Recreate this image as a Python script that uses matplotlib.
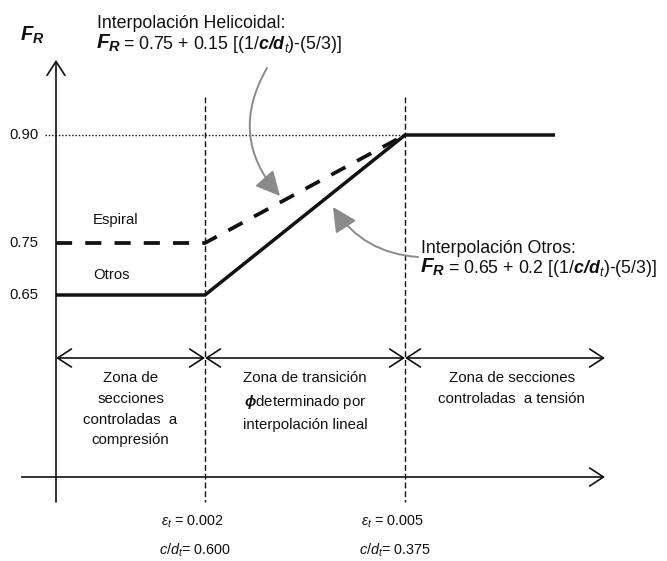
import numpy as np
import matplotlib
matplotlib.use("Agg")
import matplotlib.pyplot as plt

plt.rcParams['font.family'] = ['Liberation Sans', 'DejaVu Sans']
plt.rcParams['mathtext.fontset'] = 'custom'
plt.rcParams['mathtext.rm'] = 'Liberation Sans'
plt.rcParams['mathtext.it'] = 'Liberation Sans:italic'
plt.rcParams['mathtext.bf'] = 'Liberation Sans:bold:italic'

# ---- values -------------------------------------------------------------
strain_limits = [0.002, 0.005]            # epsilon_t at zone boundaries
cd_ratios = ["0.600", "0.375"]            # c/d_t at zone boundaries
fr_ticks = [0.65, 0.75, 0.90]
fr_tick_labels = ["0.65", "0.75", "0.90"]

eps_axis = -0.000235                      # strain where the F_R axis is drawn
eps_end = 0.00725                         # end of the tension plateau
eps_arrow_end = 0.008                     # end of the strain axis / zone arrows

otros_eps = [eps_axis, 0.002, 0.005, eps_end]
otros_fr = [0.65, 0.65, 0.90, 0.90]
espiral_eps = [eps_axis, 0.002, 0.005]
espiral_fr = [0.75, 0.75, 0.90]

zone_bounds = [eps_axis, 0.002, 0.005, eps_arrow_end]
zone_labels = [
    "Zona de\nsecciones\ncontroladas  a\ncompresión",
    "Zona de transición\n$\\mathbf{\\phi}$determinado por\ninterpolación lineal",
    "Zona de secciones\ncontroladas  a tensión",
]

W, H = 667, 561
INK = "#111111"
GREY = "#8a8a8a"

# schematic (non-proportional) vertical scale for F_R
def fr_to_h(v):
    v = np.asarray(v, dtype=float)
    return np.where(v < 0.75, 318 + (v - 0.75) * 520, 318 + (v - 0.75) * 720)

def h_to_fr(h):
    h = np.asarray(h, dtype=float)
    return np.where(h < 318, 0.75 + (h - 318) / 520, 0.75 + (h - 318) / 720)

fig = plt.figure(figsize=(W / 100, H / 100), dpi=100)
ax = fig.add_axes([0, 0, 1, 1])
ax.set_yscale('function', functions=(fr_to_h, h_to_fr))
ax.set_xlim(-0.001075, 0.00893)
ax.set_ylim(float(h_to_fr(0)), float(h_to_fr(H)))
ax.axis('off')

def fy(py):
    """vertical position (pixels from top) as an axes fraction"""
    return 1 - py / H

def P(px, py):
    return (px / W, 1 - py / H)

xt = ax.get_xaxis_transform()   # x in strain, y in axes fraction

def chevron_arrow(p0, p1, style, lw=1.2):
    ax.annotate("", xy=p1, xytext=p0, xycoords=xt, textcoords=xt,
                arrowprops=dict(arrowstyle=style + ",head_length=10,head_width=6.5",
                                mutation_scale=1, lw=lw, color=INK,
                                shrinkA=0, shrinkB=0))

# axes with open arrowheads
chevron_arrow((eps_axis, fy(502)), (eps_axis, fy(60)), "->")
chevron_arrow((-0.00075, fy(477)), (eps_arrow_end, fy(477)), "->")

# zone boundaries
for e in strain_limits:
    ax.plot([e, e], [fy(97), fy(502)], transform=xt, color=INK, lw=1.0,
            dashes=(4.2, 2.1), zorder=2)

# 0.90 reference
ax.plot([-0.0004, strain_limits[1]], [fr_ticks[2], fr_ticks[2]], color=INK,
        lw=1.0, dashes=(1.0, 1.4), zorder=2)

# F_R curves
ax.plot(espiral_eps, espiral_fr, color=INK, lw=2.7, dashes=(4.3, 3.5),
        solid_capstyle='butt', dash_capstyle='butt', zorder=3)
ax.plot(otros_eps, otros_fr, color=INK, lw=2.5, solid_joinstyle='miter',
        solid_capstyle='butt', zorder=4)

# tick labels
for v, lab in zip(fr_ticks, fr_tick_labels):
    ax.text(-0.0005, v, lab, ha='right', va='center', fontsize=10.7, color=INK)

ax.text(0.00032, fy(224), "Espiral", transform=xt, fontsize=10.7, color=INK,
        va='baseline', ha='left')
ax.text(0.00032, fy(279), "Otros", transform=xt, fontsize=10.7, color=INK,
        va='baseline', ha='left')

# zone arrows and descriptions
for i in range(3):
    a, b = zone_bounds[i], zone_bounds[i + 1]
    chevron_arrow((a, fy(358)), (b, fy(358)), "<->")
    xc = (a + b) / 2 + (0.0001 if i == 2 else 0.0)
    ax.text(xc, fy(371), zone_labels[i], transform=xt, ha='center',
            va='top', multialignment='center', fontsize=10.8, color=INK,
            linespacing=1.62)

# strain and c/d_t values under the boundaries
for e, cd in zip(strain_limits, cd_ratios):
    ax.text(e - 0.00018, fy(526), "$\\varepsilon_t$ = %.3f" % e, transform=xt,
            ha='center', va='baseline', fontsize=10.4, color=INK)
    ax.text(e - 0.00015, fy(555), "$c/d_t$= " + cd, transform=xt,
            ha='center', va='baseline', fontsize=10.4, color=INK)

# axis title
ax.text(*P(20, 41), "$\\mathbf{F}_{\\mathbf{R}}$", transform=ax.transAxes,
        fontsize=14.5, va='baseline', ha='left', color=INK)

# interpolation formulas
ax.text(*P(97, 28), "Interpolación Helicoidal:", transform=ax.transAxes,
        fontsize=12.8, va='baseline', color=INK)
ax.text(*P(96, 49), "$\\mathbf{F}_{\\mathbf{R}}$", transform=ax.transAxes,
        fontsize=15, va='baseline', color=INK)
ax.text(*P(123, 49), "= 0.75 + 0.15 [(1/$\\mathbf{c/d}_{t}$)-(5/3)]",
        transform=ax.transAxes, fontsize=12.8, va='baseline', color=INK)

ax.text(*P(421, 253), "Interpolación Otros:", transform=ax.transAxes,
        fontsize=12.8, va='baseline', color=INK)
ax.text(*P(420, 273), "$\\mathbf{F}_{\\mathbf{R}}$", transform=ax.transAxes,
        fontsize=15, va='baseline', color=INK)
ax.text(*P(448, 273), "= 0.65 + 0.2 [(1/$\\mathbf{c/d}_{t}$)-(5/3)]",
        transform=ax.transAxes, fontsize=12.8, va='baseline', color=INK)

# curved pointers
pointer = dict(arrowstyle="-|>,head_length=15,head_width=7.5",
               mutation_scale=1, color=GREY, lw=1.4, shrinkA=0, shrinkB=0)
ax.annotate("", xy=P(280, 196), xytext=P(267, 68), xycoords='axes fraction',
            textcoords='axes fraction',
            arrowprops=dict(pointer, connectionstyle="arc3,rad=0.36"))
ax.annotate("", xy=P(333, 207), xytext=P(418, 257), xycoords='axes fraction',
            textcoords='axes fraction',
            arrowprops=dict(pointer, connectionstyle="arc3,rad=-0.25"))

fig.savefig("out.png", dpi=100)
